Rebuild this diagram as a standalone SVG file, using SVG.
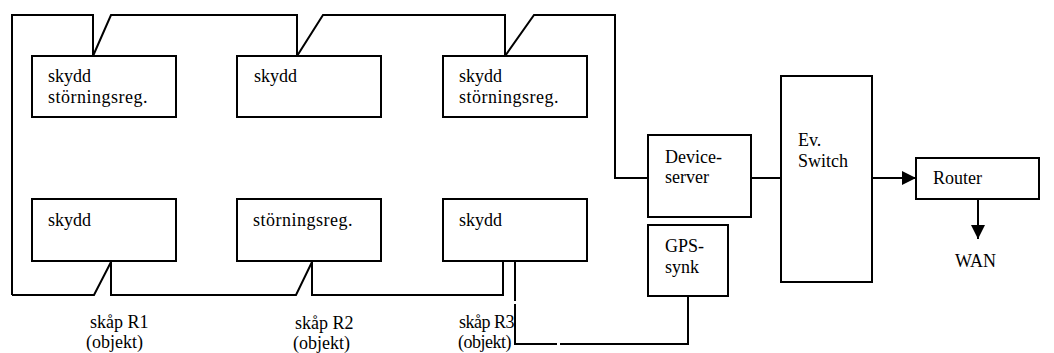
<svg xmlns="http://www.w3.org/2000/svg" width="1054" height="353" viewBox="0 0 1054 353">
<style>
.box{fill:#fff;stroke:#000;stroke-width:2}
.ln{fill:none;stroke:#000;stroke-width:2}
.t{font-family:'Liberation Serif','Times New Roman',serif;font-size:18px;fill:#000}
.w{letter-spacing:0.5px}
.n{letter-spacing:-0.5px}
</style>
<defs>
<marker id="ah" viewBox="0 0 14 14" refX="14" refY="7" markerWidth="14" markerHeight="14" markerUnits="userSpaceOnUse" orient="auto">
<path d="M0,0 L14,7 L0,14 Z" fill="#000"/>
</marker>
</defs>
<rect width="1054" height="353" fill="#fff"/>
<g id="connectors">
<path class="ln" d="M12,295 V15 H93 V56 L111,15 H297 V56 L323,15 H505 V56 L534,15 H615 V178 H648"/>
<path class="ln" d="M12,295 H94 L111,262 V295 H296 L312,262 V295 H503 V262"/>
<path class="ln" d="M515,262 V301"/>
<path class="ln" d="M515,304 V344 H557"/>
<path class="ln" d="M560,344 H688 V296"/>
<path class="ln" d="M750,178 H781"/>
<path class="ln" d="M872,178 H916" marker-end="url(#ah)"/>
<path class="ln" d="M978,199 V239" marker-end="url(#ah)"/>
</g>
<g class="t">
<g id="n1"><rect class="box" x="32" y="56" width="144" height="61"/><text x="48" y="82">skydd</text><text class="w" x="48" y="103">störningsreg.</text></g>
<g id="n2"><rect class="box" x="237" y="56" width="144" height="61"/><text x="254" y="82">skydd</text></g>
<g id="n3"><rect class="box" x="443" y="56" width="144" height="61"/><text x="459" y="82">skydd</text><text class="w" x="459" y="103">störningsreg.</text></g>
<g id="n4"><rect class="box" x="32" y="199" width="144" height="62"/><text x="48" y="226">skydd</text></g>
<g id="n5"><rect class="box" x="237" y="199" width="144" height="62"/><text class="w" x="253" y="226">störningsreg.</text></g>
<g id="n6"><rect class="box" x="443" y="199" width="144" height="62"/><text x="459" y="226">skydd</text></g>
<g id="devserver"><rect class="box" x="648" y="135" width="103" height="82"/><text x="665" y="163">Device-</text><text x="665" y="183">server</text></g>
<g id="switch"><rect class="box" x="781" y="76" width="91" height="206"/><text x="798" y="146">Ev.</text><text x="798" y="167">Switch</text></g>
<g id="router"><rect class="box" x="916" y="158" width="123" height="41"/><text x="933" y="184">Router</text></g>
<g id="gps"><rect class="box" x="648" y="225" width="80" height="71"/><text x="665" y="252">GPS-</text><text x="665" y="273">synk</text></g>
<g id="wan"><text x="955" y="267">WAN</text></g>
<g id="labels">
<text x="90" y="328">skåp R1</text><text x="86" y="348">(objekt)</text>
<text x="295" y="329">skåp R2</text><text x="293" y="349">(objekt)</text>
<text class="n" x="459" y="328">skåp R3</text><text class="n" x="458" y="348">(objekt)</text>
</g>
</g>
</svg>
